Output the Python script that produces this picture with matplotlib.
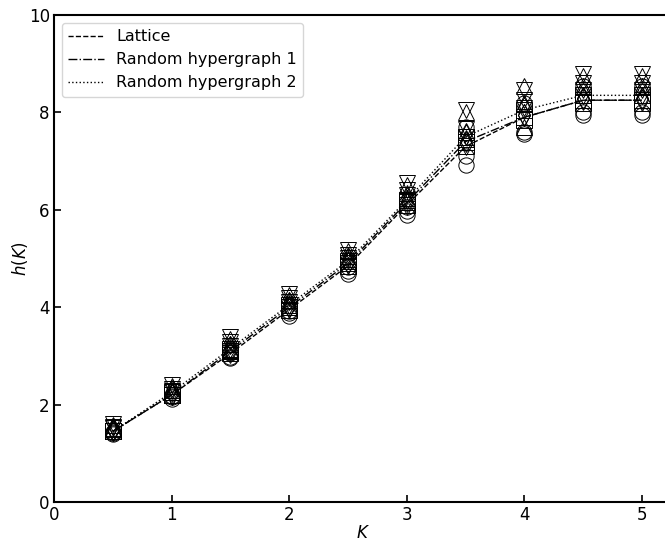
import numpy as np
import matplotlib
matplotlib.use("Agg")
import matplotlib.pyplot as plt

# --- data ---
K = [0.5, 1.0, 1.5, 2.0, 2.5, 3.0, 3.5, 4.0, 4.5, 5.0]
labels = ["Lattice", "Random hypergraph 1", "Random hypergraph 2"]
styles = ["--", "-.", ":"]

# mean curves
h_lattice = [1.45, 2.20, 3.05, 3.95, 4.85, 6.10, 7.30, 7.90, 8.25, 8.25]
h_rh1 = [1.45, 2.20, 3.10, 4.00, 4.90, 6.15, 7.40, 7.90, 8.25, 8.25]
h_rh2 = [1.45, 2.25, 3.15, 4.05, 4.95, 6.20, 7.50, 8.05, 8.35, 8.35]

# individual runs (one marker per run)
marker_shapes = ["o", "s", "d", "^", "v"]
runs_lattice = [
    [1.40, 2.12, 2.95, 3.82, 4.68, 5.90, 6.92, 7.55, 7.95, 7.95],
    [1.45, 2.20, 3.05, 3.95, 4.85, 6.10, 7.30, 7.85, 8.20, 8.20],
    [1.47, 2.22, 3.08, 4.00, 4.90, 6.12, 7.35, 7.95, 8.28, 8.25],
    [1.50, 2.25, 3.12, 4.05, 4.98, 6.25, 7.45, 7.70, 8.35, 8.35],
    [1.52, 2.28, 3.20, 4.10, 5.02, 6.30, 7.50, 8.10, 8.45, 8.45],
]
runs_rh1 = [
    [1.42, 2.15, 2.98, 3.88, 4.75, 5.98, 7.10, 7.60, 8.00, 8.00],
    [1.45, 2.20, 3.10, 4.00, 4.90, 6.15, 7.40, 7.90, 8.25, 8.25],
    [1.48, 2.22, 3.12, 4.02, 4.92, 6.18, 7.42, 7.95, 8.30, 8.30],
    [1.52, 2.30, 3.25, 4.15, 5.05, 6.35, 7.60, 8.20, 8.55, 8.55],
    [1.55, 2.32, 3.28, 4.18, 5.08, 6.40, 7.65, 8.25, 8.60, 8.60],
]
runs_rh2 = [
    [1.44, 2.18, 3.05, 3.92, 4.82, 6.05, 7.70, 8.20, 8.55, 8.55],
    [1.46, 2.25, 3.15, 4.05, 4.95, 6.20, 7.50, 8.05, 8.35, 8.35],
    [1.50, 2.28, 3.18, 4.08, 5.00, 6.25, 7.55, 8.10, 8.40, 8.40],
    [1.58, 2.38, 3.35, 4.25, 5.15, 6.50, 8.00, 8.55, 8.75, 8.75],
    [1.60, 2.40, 3.38, 4.28, 5.18, 6.55, 8.05, 8.45, 8.78, 8.78],
]

means = [h_lattice, h_rh1, h_rh2]
runs = [runs_lattice, runs_rh1, runs_rh2]

# --- figure ---
fig = plt.figure(figsize=(6.65, 5.41), dpi=100)
ax = fig.add_axes([0.0812, 0.0721, 0.9284, 0.9002])

for mean, run_set, ls, lab in zip(means, runs, styles, labels):
    ax.plot(K, mean, ls, color="black", lw=1.0, label=lab)
    for vals, mk in zip(run_set, marker_shapes):
        ax.plot(K, vals, linestyle="none", marker=mk, markersize=11,
                markerfacecolor="none", markeredgecolor="black",
                markeredgewidth=0.7)

ax.set_xlim(0, 5.25)
ax.set_ylim(0, 10)
ax.set_xticks([0, 1, 2, 3, 4, 5])
ax.set_yticks([0, 2, 4, 6, 8, 10])
ax.tick_params(direction="in", length=5, width=1.2, labelsize=12, pad=3)
for s in ax.spines.values():
    s.set_linewidth(1.5)
ax.set_xlabel("$K$", fontsize=12, labelpad=0)
ax.set_ylabel("$h(K)$", fontsize=12, labelpad=-1)
ax.legend(loc="upper left", fontsize=11.5, handlelength=2.2)

fig.savefig("out.png", dpi=100)
